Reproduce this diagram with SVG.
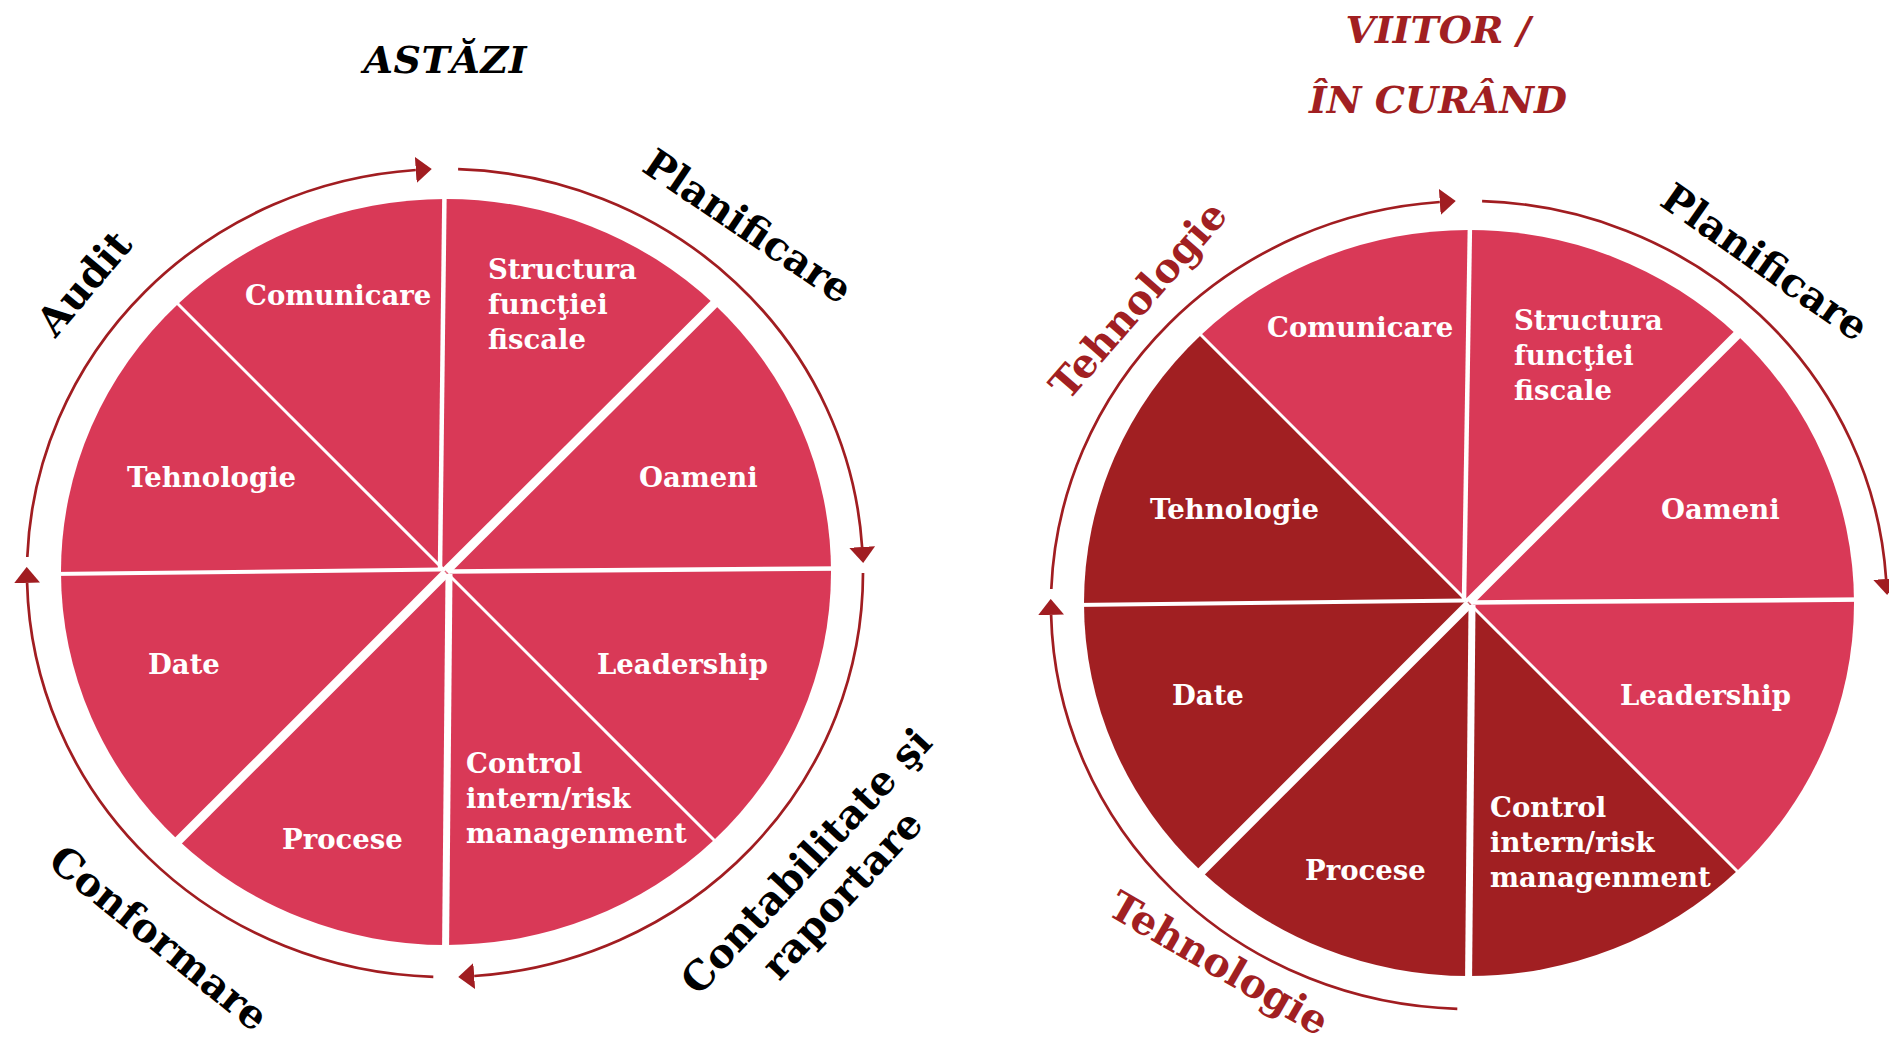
<svg xmlns="http://www.w3.org/2000/svg" width="1889" height="1041" viewBox="0 0 1889 1041">
<style>
.pink{fill:#D93957}
.dark{fill:#A11F22}
.lbl{font-family:"DejaVu Serif","Liberation Serif",serif;font-weight:bold;font-size:27.5px;fill:#fff}
.out{font-family:"DejaVu Serif","Liberation Serif",serif;font-weight:bold;font-size:40px;fill:#000;text-anchor:middle}
.outr{fill:#A11F22}
.title{font-family:"DejaVu Serif","Liberation Serif",serif;font-weight:bold;font-style:italic;font-size:38px;text-anchor:middle}
.ring{fill:none;stroke:#A11D21;stroke-width:2.7}
.sep{stroke:#fff;fill:none}
</style>
<defs>
<marker id="ah" markerUnits="userSpaceOnUse" markerWidth="16" markerHeight="26" viewBox="0 0 16 26" refX="0" refY="13" orient="auto">
<path d="M0,0 L16,13 L0,26 Z" fill="#A11D21"/>
</marker>
</defs>
<rect width="1889" height="1041" fill="#fff"/>

<text class="title" x="445" y="73" textLength="163" lengthAdjust="spacing" fill="#000">ASTĂZI</text>
<text class="title" x="1438" y="43" fill="#A11F22" font-size="40">VIITOR /</text>
<text class="title" x="1438" y="113" fill="#A11F22" font-size="40">ÎN CURÂND</text>

<!-- LEFT PIE -->
<g id="left-pie">
<g id="L-structura"><path class="pink" d="M446,572 L446,199 A385,373 0 0 1 714,304 Z"/><text class="lbl"><tspan x="488" y="279">Structura</tspan><tspan x="488" y="314">funcţiei</tspan><tspan x="488" y="349">fiscale</tspan></text></g>
<g id="L-oameni"><path class="pink" d="M446,572 L714,304 A385,373 0 0 1 831,572 Z"/><text class="lbl" x="639" y="487">Oameni</text></g>
<g id="L-leadership"><path class="pink" d="M446,572 L831,572 A385,373 0 0 1 714,840 Z"/><text class="lbl" x="597" y="674">Leadership</text></g>
<g id="L-control"><path class="pink" d="M446,572 L714,840 A385,373 0 0 1 446,945 Z"/><text class="lbl"><tspan x="466" y="773">Control</tspan><tspan x="466" y="808">intern/risk</tspan><tspan x="466" y="843">managenment</tspan></text></g>
<g id="L-procese"><path class="pink" d="M446,572 L446,945 A385,373 0 0 1 178,840 Z"/><text class="lbl" x="282" y="849">Procese</text></g>
<g id="L-date"><path class="pink" d="M446,572 L178,840 A385,373 0 0 1 61,572 Z"/><text class="lbl" x="148" y="674">Date</text></g>
<g id="L-tehnologie"><path class="pink" d="M446,572 L61,572 A385,373 0 0 1 178,304 Z"/><text class="lbl" x="127" y="487">Tehnologie</text></g>
<g id="L-comunicare"><path class="pink" d="M446,572 L178,304 A385,373 0 0 1 446,199 Z"/><text class="lbl" x="245" y="305">Comunicare</text></g>
</g>
<g id="left-dividers" class="sep">
<path d="M444.5,190 L440,570" stroke-width="4.5"/>
<path d="M446,571 L722,296" stroke-width="9"/>
<path d="M450,571.5 L842,568.5" stroke-width="4.5"/>
<path d="M448,574 L722,848" stroke-width="3"/>
<path d="M449,574 L445.5,955" stroke-width="7"/>
<path d="M446,573 L170,849" stroke-width="9"/>
<path d="M50,574 L442,569.5" stroke-width="4"/>
<path d="M170,296 L445,571" stroke-width="3"/>
</g>

<!-- RIGHT PIE -->
<g id="right-pie">
<g id="R-structura"><path class="pink" d="M1469,603 L1469,230 A385,373 0 0 1 1737,335 Z"/><text class="lbl"><tspan x="1514" y="330">Structura</tspan><tspan x="1514" y="365">funcţiei</tspan><tspan x="1514" y="400">fiscale</tspan></text></g>
<g id="R-oameni"><path class="pink" d="M1469,603 L1737,335 A385,373 0 0 1 1854,603 Z"/><text class="lbl" x="1661" y="519">Oameni</text></g>
<g id="R-leadership"><path class="pink" d="M1469,603 L1854,603 A385,373 0 0 1 1737,871 Z"/><text class="lbl" x="1620" y="705">Leadership</text></g>
<g id="R-control"><path class="dark" d="M1469,603 L1737,871 A385,373 0 0 1 1469,976 Z"/><text class="lbl"><tspan x="1490" y="817">Control</tspan><tspan x="1490" y="852">intern/risk</tspan><tspan x="1490" y="887">managenment</tspan></text></g>
<g id="R-procese"><path class="dark" d="M1469,603 L1469,976 A385,373 0 0 1 1201,871 Z"/><text class="lbl" x="1305" y="880">Procese</text></g>
<g id="R-date"><path class="dark" d="M1469,603 L1201,871 A385,373 0 0 1 1084,603 Z"/><text class="lbl" x="1172" y="705">Date</text></g>
<g id="R-tehnologie"><path class="dark" d="M1469,603 L1084,603 A385,373 0 0 1 1201,335 Z"/><text class="lbl" x="1150" y="519">Tehnologie</text></g>
<g id="R-comunicare"><path class="pink" d="M1469,603 L1201,335 A385,373 0 0 1 1469,230 Z"/><text class="lbl" x="1267" y="337">Comunicare</text></g>
</g>
<g id="right-dividers" class="sep">
<path d="M1470,221 L1464,601" stroke-width="4.5"/>
<path d="M1469,602 L1745,327" stroke-width="9"/>
<path d="M1473,602.5 L1865,599.5" stroke-width="4.5"/>
<path d="M1471,605 L1745,879" stroke-width="3"/>
<path d="M1472,605 L1468.5,986" stroke-width="7"/>
<path d="M1469,604 L1193,880" stroke-width="9"/>
<path d="M1073,605 L1465,600.5" stroke-width="4"/>
<path d="M1193,327 L1468,602" stroke-width="3"/>
</g>

<!-- CONNECTORS (cycle arcs) -->
<g id="connectors">
<path class="ring" d="M27.3,557 A418,404 0 0 1 415.8,170" marker-end="url(#ah)"/>
<path class="ring" d="M458.1,169.2 A418,404 0 0 1 862.1,547" marker-end="url(#ah)"/>
<path class="ring" d="M863,573 A418,404 0 0 1 474.2,976" marker-end="url(#ah)"/>
<path class="ring" d="M433.3,976.8 A418,404 0 0 1 27.1,582.9" marker-end="url(#ah)"/>
<path class="ring" d="M1051.3,589 A418,404 0 0 1 1439.8,202" marker-end="url(#ah)"/>
<path class="ring" d="M1482.1,201.2 A418,404 0 0 1 1886.1,579" marker-end="url(#ah)"/>
<path class="ring" d="M1457.3,1008.8 A418,404 0 0 1 1051.1,614.9" marker-end="url(#ah)"/>
</g>

<!-- Outer stage labels -->
<g id="stage-audit"><text class="out" transform="translate(84,283) rotate(-50)" dy="0.35em">Audit</text></g>
<g id="stage-planificare-left"><text class="out" transform="translate(748,226) rotate(34)" dy="0.35em">Planificare</text></g>
<g id="stage-contabilitate"><text class="out" font-size="39" transform="translate(806,861) rotate(-47)"><tspan x="0" dy="0.35em">Contabilitate şi</tspan><tspan x="0" dy="49">raportare</tspan></text></g>
<g id="stage-conformare"><text class="out" transform="translate(159,938) rotate(39)" dy="0.35em">Conformare</text></g>
<g id="stage-tehnologie-top"><text class="out outr" transform="translate(1138,300) rotate(-49)" dy="0.35em">Tehnologie</text></g>
<g id="stage-planificare-right"><text class="out" transform="translate(1765,262) rotate(35)" dy="0.35em">Planificare</text></g>
<g id="stage-tehnologie-bottom"><text class="out outr" font-size="39" transform="translate(1219,963) rotate(30)" dy="0.35em">Tehnologie</text></g>
</svg>
